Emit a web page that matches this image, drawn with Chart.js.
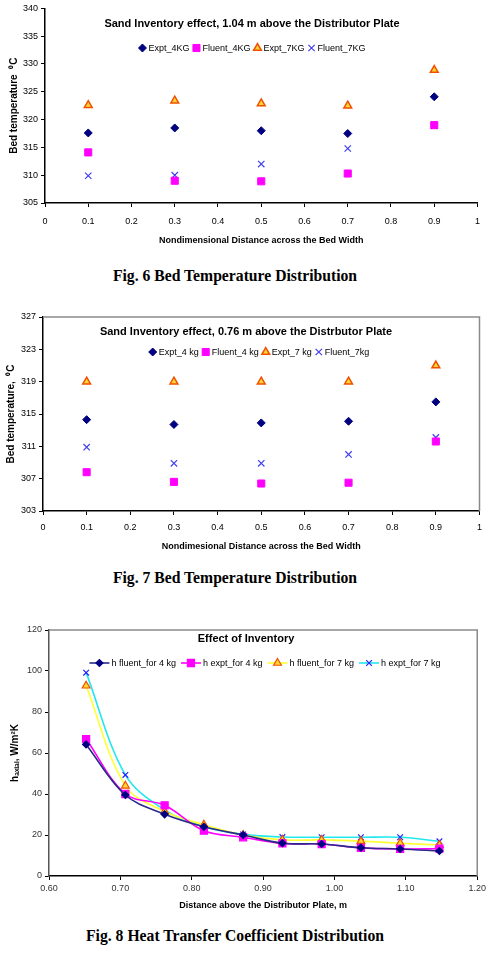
<!DOCTYPE html>
<html>
<head>
<meta charset="utf-8">
<script src="https://cdn.jsdelivr.net/npm/chart.js@4.4.1/dist/chart.umd.min.js"></script>
<style>
  body { margin: 0; background: #fff; width: 489px; height: 975px; position: relative; overflow: hidden; }
  .box { position: absolute; left: 0; width: 489px; }
  .caption { position: absolute; left: 0; width: 470px; text-align: center; font: bold 15.7px "Liberation Serif", "Times New Roman", serif; color: #000; line-height: 20px; }
</style>
</head>
<body>
<div class="box" style="top:0;height:252px"><canvas id="fig6" width="489" height="252"></canvas></div>
<div class="caption" style="top:266px">Fig. 6 Bed Temperature Distribution</div>
<div class="box" style="top:305px;height:252px"><canvas id="fig7" width="489" height="252"></canvas></div>
<div class="caption" style="top:568px">Fig. 7 Bed Temperature Distribution</div>
<div class="box" style="top:620px;height:295px"><canvas id="fig8" width="489" height="295"></canvas></div>
<div class="caption" style="top:926px">Fig. 8 Heat Transfer Coefficient Distribution</div>
<script>
// nondimensional position across the bed width
const bedWidth = [0.1, 0.3, 0.5, 0.7, 0.9];

// Fig. 6 : 1.04 m above the distributor plate
const expt4At104 = [317.6, 318.5, 318.0, 317.5, 324.1];
const fluent4At104 = [314.1, 309.0, 308.9, 310.3, 319.0];
const expt7At104 = [322.6, 323.4, 322.9, 322.5, 328.9];
const fluent7At104 = [309.9, 310.0, 312.0, 314.8, 318.9];

// Fig. 7 : 0.76 m above the distributor plate
const expt4At076 = [314.3, 313.7, 313.9, 314.1, 316.5];
const fluent4At076 = [307.8, 306.6, 306.4, 306.5, 311.6];
const expt7At076 = [319.0, 319.0, 319.0, 319.0, 321.0];
const fluent7At076 = [310.9, 308.9, 308.9, 310.0, 312.1];

// Fig. 8 : heat transfer coefficient vs height
const heightAbove = [0.652, 0.707, 0.762, 0.817, 0.872, 0.927, 0.982, 1.037, 1.092, 1.147];
const hFluent4 = [64.2, 39.5, 30.1, 24.0, 20.0, 16.0, 15.6, 13.8, 13.2, 12.2];
const hExpt4 = [66.8, 40.0, 34.5, 22.1, 18.9, 15.9, 15.6, 13.7, 13.2, 13.3];
const hFluent7 = [92.8, 44.0, 31.5, 25.0, 20.0, 17.6, 17.6, 17.0, 16.0, 15.1];
const hExpt7 = [99.2, 49.3, 32.2, 24.0, 20.3, 19.0, 18.9, 18.9, 18.9, 16.9];

const sans = '"Liberation Sans", Arial, sans-serif';
Chart.defaults.font.family = sans;
Chart.defaults.font.size = 9;
Chart.defaults.color = '#000';
Chart.defaults.animation = false;

const pts = (xs, ys) => xs.map((x, i) => ({ x: x, y: ys[i] }));

// title + legend drawn inside the plot, like the Excel originals
const innerLegend = {
  id: 'innerLegend',
  afterDraw(chart, args, opts) {
    const ctx = chart.ctx;
    ctx.save();
    ctx.fillStyle = '#000';
    ctx.textBaseline = 'middle';
    ctx.textAlign = 'center';
    ctx.font = 'bold 11px ' + sans;
    ctx.fillText(opts.title, opts.titleX, opts.titleY);

    ctx.font = '9px ' + sans;
    const sets = chart.data.datasets;
    const widths = sets.map(ds => opts.markW + opts.textGap + ctx.measureText(ds.label).width);
    const total = widths.reduce((a, b) => a + b, 0) + opts.gap * (sets.length - 1);
    let x = opts.legendX - total / 2;
    const y = opts.legendY;
    ctx.textAlign = 'left';
    sets.forEach((ds, i) => {
      if (ds.showLine) {
        ctx.strokeStyle = ds.borderColor;
        ctx.lineWidth = ds.borderWidth;
        ctx.beginPath();
        ctx.moveTo(x, y);
        ctx.lineTo(x + opts.markW, y);
        ctx.stroke();
      }
      ctx.fillStyle = ds.pointBackgroundColor || ds.backgroundColor;
      ctx.strokeStyle = ds.pointBorderColor || ds.borderColor;
      ctx.lineWidth = ds.pointBorderWidth;
      Chart.helpers.drawPoint(ctx, {
        pointStyle: ds.pointStyle, rotation: 0,
        radius: ds.pointRadius, borderWidth: ds.pointBorderWidth
      }, x + opts.markW / 2, y);
      ctx.fillStyle = '#000';
      ctx.fillText(ds.label, x + opts.markW + opts.textGap, y + 0.5);
      x += widths[i] + opts.gap;
    });
    ctx.restore();
  }
};

// grey top / right frame
const frameLines = {
  id: 'frameLines',
  beforeDatasetsDraw(chart) {
    const { left, top, right, bottom } = chart.chartArea;
    const ctx = chart.ctx;
    ctx.save();
    ctx.strokeStyle = '#8a8a8a';
    ctx.lineWidth = 1.5;
    ctx.beginPath();
    ctx.moveTo(left, top);
    ctx.lineTo(right, top);
    ctx.lineTo(right, bottom);
    ctx.stroke();
    ctx.restore();
  }
};

function makeScales(o) {
  return {
    x: {
      type: 'linear', min: o.xMin, max: o.xMax,
      ticks: { stepSize: o.xStep, padding: o.xPad, color: o.tickColor, maxRotation: 0, autoSkip: false, callback: o.xFmt },
      grid: { drawOnChartArea: false, tickLength: 4, tickColor: '#000' },
      border: { color: '#000', width: 1.5 },
      title: { display: true, text: o.xTitle, font: { size: 9, weight: 'bold' }, padding: { top: 0, bottom: o.xTitlePad } },
      afterFit: s => { s.height = o.xHeight; }
    },
    y: {
      min: o.yMin, max: o.yMax,
      ticks: { stepSize: o.yStep, padding: 3, color: o.tickColor },
      grid: { drawOnChartArea: false, tickLength: 4, tickColor: '#000' },
      border: { color: o.yBorder, width: 1.5 },
      title: { display: true, text: o.yTitle, font: { size: 10, weight: 'bold' }, padding: { top: o.yTitlePad, bottom: 0 } },
      afterFit: s => { s.width = o.yWidth; }
    }
  };
}

function markerSets(labels, a, b, c, d, xs) {
  return [
    { label: labels[0], data: pts(xs, a), pointStyle: 'rectRot', pointRadius: 4, pointBorderWidth: 1,
      backgroundColor: '#000080', borderColor: '#000080' },
    { label: labels[1], data: pts(xs, b), pointStyle: 'rect', pointRadius: 5, pointBorderWidth: 1,
      backgroundColor: '#ff00ff', borderColor: '#ff00ff' },
    { label: labels[2], data: pts(xs, c), pointStyle: 'triangle', pointRadius: 4.5, pointBorderWidth: 1.5,
      backgroundColor: '#ffd633', borderColor: '#f05000' },
    { label: labels[3], data: pts(xs, d), pointStyle: 'crossRot', pointRadius: 4.5, pointBorderWidth: 1.2,
      backgroundColor: '#4040ee', borderColor: '#4040ee' }
  ];
}

const plainNum = v => String(parseFloat(v.toFixed(2)));

new Chart(document.getElementById('fig6'), {
  type: 'scatter',
  data: {
    datasets: markerSets(['Expt_4KG', 'Fluent_4KG', 'Expt_7KG', 'Fluent_7KG'],
      expt4At104, fluent4At104, expt7At104, fluent7At104, bedWidth)
  },
  options: {
    responsive: false,
    layout: { padding: { top: 0, right: 9, bottom: 0, left: 0 } },
    scales: makeScales({
      xMin: 0, xMax: 1, xStep: 0.1, xPad: 9, xHeight: 49, xTitlePad: 6, xFmt: plainNum,
      xTitle: 'Nondimensional Distance across the Bed Width',
      yMin: 305, yMax: 340, yStep: 5, yWidth: 45, yTitlePad: 8, yBorder: '#000',
      yTitle: 'Bed temperature  \u2070C', tickColor: '#000'
    }),
    plugins: {
      legend: { display: false }, tooltip: { enabled: false },
      innerLegend: { title: 'Sand Inventory effect, 1.04 m above the Distributor Plate',
        titleX: 252, titleY: 24, legendX: 252, legendY: 48, markW: 8, textGap: 2, gap: 3 }
    }
  },
  plugins: [innerLegend]
});

new Chart(document.getElementById('fig7'), {
  type: 'scatter',
  data: {
    datasets: markerSets(['Expt_4 kg', 'Fluent_4 kg', 'Expt_7 kg', 'Fluent_7kg'],
      expt4At076, fluent4At076, expt7At076, fluent7At076, bedWidth)
  },
  options: {
    responsive: false,
    layout: { padding: { top: 12, right: 7, bottom: 0, left: 0 } },
    scales: makeScales({
      xMin: 0, xMax: 1, xStep: 0.1, xPad: 7, xHeight: 46, xTitlePad: 5, xFmt: plainNum,
      xTitle: 'Nondimesional Distance across the Bed Width',
      yMin: 303, yMax: 327, yStep: 4, yWidth: 43, yTitlePad: 5, yBorder: '#000',
      yTitle: 'Bed temperature,  \u2070C', tickColor: '#000'
    }),
    plugins: {
      legend: { display: false }, tooltip: { enabled: false },
      innerLegend: { title: 'Sand Inventory effect, 0.76 m above the Distrbutor Plate',
        titleX: 246, titleY: 27, legendX: 259, legendY: 47, markW: 8, textGap: 2, gap: 3 }
    }
  },
  plugins: [innerLegend, frameLines]
});

const lineSet = (label, ys, line, fill, edge, style, r) => ({
  label: label, data: pts(heightAbove, ys), showLine: true, tension: 0.35,
  borderColor: line, borderWidth: 1.6, backgroundColor: line,
  pointStyle: style, pointRadius: r, pointBorderWidth: 1.2,
  pointBackgroundColor: fill, pointBorderColor: edge
});

new Chart(document.getElementById('fig8'), {
  type: 'scatter',
  data: {
    datasets: [
      lineSet('h fluent_for 4 kg', hFluent4, '#2a2a8a', '#000080', '#000080', 'rectRot', 3.5),
      lineSet('h expt_for 4 kg', hExpt4, '#ff00ff', '#ff00ff', '#ff00ff', 'rect', 5),
      lineSet('h fluent_for 7 kg', hFluent7, '#ffff33', '#ffd633', '#f05000', 'triangle', 4.5),
      lineSet('h expt_for 7 kg', hExpt7, '#22e8ee', '#2222ff', '#2222ff', 'crossRot', 4)
    ]
  },
  options: {
    responsive: false,
    layout: { padding: { top: 10, right: 9, bottom: 0, left: 0 } },
    scales: makeScales({
      xMin: 0.6, xMax: 1.2, xStep: 0.1, xPad: 3, xHeight: 39, xTitlePad: 4,
      xFmt: v => v.toFixed(2),
      xTitle: 'Distance above the Distributor Plate, m',
      yMin: 0, yMax: 120, yStep: 20, yWidth: 49, yTitlePad: 9, yBorder: '#555',
      yTitle: 'h\u2090\u2093\u1d62\u2090\u2097, W/m\u00b2K', tickColor: '#333'
    }),
    plugins: {
      legend: { display: false }, tooltip: { enabled: false },
      innerLegend: { title: 'Effect of Inventory',
        titleX: 246, titleY: 19, legendX: 265, legendY: 43, markW: 20, textGap: 2, gap: 5 }
    }
  },
  plugins: [innerLegend, frameLines]
});
</script>
</body>
</html>
